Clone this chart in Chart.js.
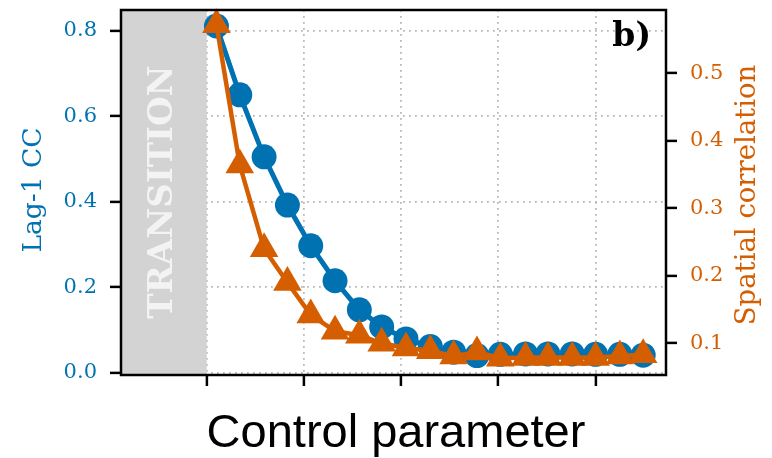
<!DOCTYPE html>
<html>
<head>
<meta charset="utf-8">
<script src="https://cdn.jsdelivr.net/npm/chart.js@4.4.0/dist/chart.umd.min.js"></script>
<style>
  html, body { margin: 0; padding: 0; background: #fff; }
  #wrap { width: 772px; height: 458px; }
</style>
</head>
<body>
<div id="wrap"><canvas id="chart" width="772" height="458"></canvas></div>
<script>
// Values
const controlParam = [1.10, 1.34, 1.59, 1.83, 2.07, 2.32, 2.57, 2.80, 3.05, 3.30, 3.54, 3.78, 4.02, 4.28, 4.51, 4.76, 5.00, 5.25, 5.49];
const lag1CC = [0.811, 0.650, 0.505, 0.392, 0.297, 0.215, 0.147, 0.107, 0.079, 0.061, 0.048, 0.040, 0.043, 0.044, 0.044, 0.044, 0.043, 0.043, 0.041];
const spatialCorr = [0.572, 0.364, 0.240, 0.190, 0.142, 0.118, 0.112, 0.100, 0.093, 0.089, 0.081, 0.087, 0.078, 0.079, 0.079, 0.079, 0.079, 0.081, 0.083];
const xTicks = [1, 2, 3, 4, 5];
const leftTicks = [0.0, 0.2, 0.4, 0.6, 0.8];
const rightTicks = [0.1, 0.2, 0.3, 0.4, 0.5];
const transitionEnd = 1; // shaded band runs from the left edge to here

const BLUE = '#0072B2';
const ORANGE = '#D55E00';
const SERIF = '"DejaVu Serif", serif';

// Shared tick / grid look
const gridOpts = (onArea) => ({
    drawOnChartArea: onArea,
    color: '#b8b8b8',
    lineWidth: 1.8,
    tickColor: '#000',
    tickWidth: 2.5,
    tickLength: 11
});
const dotted = { display: false, dash: [1.8, 4.2] };

// fixed box sizes so the plot area lands where it does in the figure
const fixBox = (w, h) => s => {
    if (w !== null) s.width = w;
    if (h !== null) s.height = h;
    s.paddingTop = 0;
    s.paddingBottom = 0;
    s.paddingLeft = 0;
    s.paddingRight = 0;
};

// Shaded band, frame and all the hand-placed texts
const decorations = {
    id: 'decorations',
    beforeDatasetsDraw(chart) {
        const { ctx, chartArea: a, scales } = chart;
        const xEnd = scales.x.getPixelForValue(transitionEnd);
        ctx.save();
        ctx.fillStyle = '#d3d3d3';
        ctx.fillRect(a.left, a.top, xEnd - a.left, a.bottom - a.top);
        ctx.translate(172, 192);
        ctx.rotate(-Math.PI / 2);
        ctx.font = 'bold 34px ' + SERIF;
        ctx.fillStyle = 'rgba(255,255,255,0.72)';
        ctx.textAlign = 'center';
        ctx.textBaseline = 'alphabetic';
        ctx.fillText('TRANSITION', 0, 0);
        ctx.restore();
    },
    afterDatasetsDraw(chart) {
        const { ctx, chartArea: a } = chart;
        ctx.save();
        ctx.strokeStyle = '#000';
        ctx.lineWidth = 2.5;
        ctx.strokeRect(a.left, a.top, a.right - a.left, a.bottom - a.top);

        ctx.fillStyle = '#000';
        ctx.font = 'bold 33px ' + SERIF;
        ctx.textAlign = 'right';
        ctx.textBaseline = 'alphabetic';
        ctx.fillText('b)', 651, 46);

        ctx.font = '47px "Liberation Sans", Arial, sans-serif';
        ctx.textAlign = 'center';
        ctx.fillText('Control parameter', 396, 447);

        // rotated axis titles
        ctx.save();
        ctx.translate(41, 190);
        ctx.rotate(-Math.PI / 2);
        ctx.fillStyle = BLUE;
        ctx.font = '26.5px ' + SERIF;
        ctx.fillText('Lag-1 CC', 0, 0);
        ctx.restore();

        ctx.save();
        ctx.translate(755, 195);
        ctx.rotate(-Math.PI / 2);
        ctx.fillStyle = ORANGE;
        ctx.font = '27.5px ' + SERIF;
        ctx.fillText('Spatial correlation', 0, 0);
        ctx.restore();

        ctx.restore();
    }
};

new Chart(document.getElementById('chart'), {
    type: 'line',
    data: {
        datasets: [
            {
                label: 'Lag-1 CC',
                data: controlParam.map((x, i) => ({ x, y: lag1CC[i] })),
                yAxisID: 'y',
                order: 2,
                borderColor: BLUE,
                borderWidth: 5,
                pointStyle: 'circle',
                pointRadius: 12.5,
                pointBackgroundColor: BLUE,
                pointBorderWidth: 0,
                clip: false
            },
            {
                label: 'Spatial correlation',
                data: controlParam.map((x, i) => ({ x, y: spatialCorr[i] })),
                yAxisID: 'y2',
                order: 1,
                borderColor: ORANGE,
                borderWidth: 4.5,
                pointStyle: 'triangle',
                pointRadius: 16.5,
                pointBackgroundColor: ORANGE,
                pointBorderWidth: 0,
                clip: false
            }
        ]
    },
    options: {
        responsive: false,
        devicePixelRatio: 1,
        animation: false,
        layout: { autoPadding: false, padding: { top: 10, left: 0, right: 0, bottom: 0 } },
        plugins: { legend: { display: false }, tooltip: { enabled: false } },
        scales: {
            x: {
                type: 'linear',
                min: 0.118,
                max: 5.725,
                afterBuildTicks: s => { s.ticks = xTicks.map(v => ({ value: v })); },
                afterFit: fixBox(null, 83),
                ticks: { autoSkip: false, callback: () => '', padding: 0 },
                grid: gridOpts(true),
                border: dotted
            },
            y: {
                position: 'left',
                min: -0.0054,
                max: 0.8484,
                afterBuildTicks: s => { s.ticks = leftTicks.map(v => ({ value: v })); },
                afterFit: fixBox(121, null),
                ticks: {
                    autoSkip: false,
                    color: BLUE,
                    padding: 13,
                    font: { family: SERIF, size: 21 },
                    callback: v => v.toFixed(1)
                },
                grid: gridOpts(true),
                border: dotted
            },
            y2: {
                position: 'right',
                min: 0.053,
                max: 0.5938,
                afterBuildTicks: s => { s.ticks = rightTicks.map(v => ({ value: v })); },
                afterFit: fixBox(106, null),
                ticks: {
                    autoSkip: false,
                    color: ORANGE,
                    padding: 13,
                    font: { family: SERIF, size: 21 },
                    callback: v => v.toFixed(1)
                },
                grid: gridOpts(false),
                border: dotted
            }
        }
    },
    plugins: [decorations]
});
</script>
</body>
</html>
